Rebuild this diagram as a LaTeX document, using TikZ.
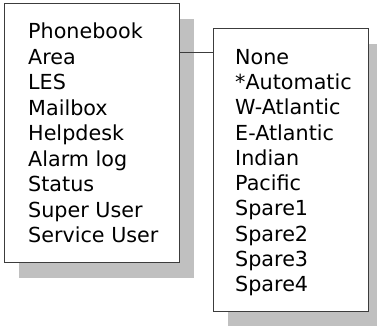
\documentclass[tikz,border=0pt]{standalone}
\usepackage{fontspec}
\setmainfont{DejaVu Sans}
\usetikzlibrary{shadows}
\definecolor{shadowgray}{RGB}{192,192,192}
\definecolor{framegray}{RGB}{60,60,60}
\tikzset{
  menubox/.style={draw=framegray, line width=1pt, fill=white, rectangle, inner sep=0pt,
    general shadow={fill=shadowgray, shadow xshift=15pt, shadow yshift=-15pt}},
  item/.style={anchor=base west, inner sep=0pt, text=black,
    font=\fontsize{20.7}{25}\selectfont}
}
\begin{document}
\begin{tikzpicture}[x=1pt,y=1pt]
\useasboundingbox (0,0) rectangle (377,326);
\clip (0,0) rectangle (377,326);
\node[menubox, minimum width=175pt, minimum height=259pt] (L) at (91.5,192.5) {};
\node[menubox, minimum width=155pt, minimum height=283pt] (R) at (290.5,155.5) {};
\foreach \t [count=\i] in {Phonebook,Area,LES,Mailbox,Helpdesk,Alarm log,Status,Super User,Service User}
  \node[item] (l\i) at (28,{287-25.5*(\i-1)}) {\t};
\foreach \t [count=\i] in {None,*Automatic,W-Atlantic,E-Atlantic,Indian,Pacific,Spare1,Spare2,Spare3,Spare4}
  \node[item] (r\i) at (235,{261.5-25.25*(\i-1)}) {\t};
\coordinate (c) at (0,273);
\draw[draw=framegray, line width=1pt] (L.east |- c) -- (R.west |- c);
\end{tikzpicture}
\end{document}
